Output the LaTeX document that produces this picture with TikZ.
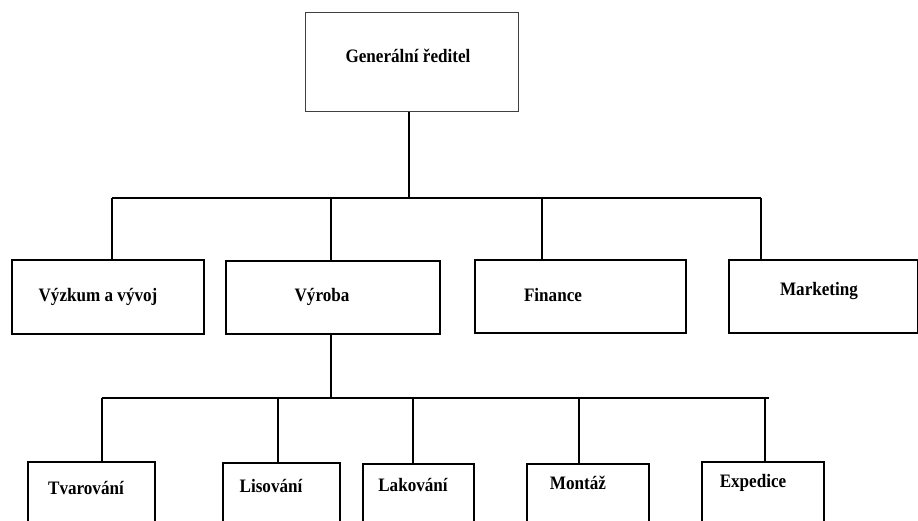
\documentclass[tikz,border=0pt]{standalone}
\usepackage{fontspec}
\setmainfont{Liberation Serif}
\usepackage{graphicx}
\newcommand\narrowtext[1]{\scalebox{0.9}[1]{#1}}
\begin{document}
\begin{tikzpicture}[x=1pt,y=-1pt,
  unit/.style={draw,rectangle,line width=2pt,inner sep=0pt,anchor=north west},
  headbox/.style={unit,line width=1.3pt,draw=black!75},
  lbl/.style={inner sep=0pt,font=\fontsize{19}{21}\selectfont\bfseries},
  link/.style={line width=2pt}]
\useasboundingbox (0,0) rectangle (918,521);
\clip (0,0) rectangle (918,521);

% boxes
\node[headbox,minimum width=213pt,minimum height=99pt] (gr) at (305,12) {};
\node[unit,minimum width=192pt,minimum height=74pt] (vyzkum) at (11,259) {};
\node[unit,minimum width=214pt,minimum height=73pt] (vyroba) at (225,260) {};
\node[unit,minimum width=211pt,minimum height=73pt] (finance) at (474,259) {};
\node[unit,minimum width=189pt,minimum height=73pt] (marketing) at (728,259) {};
\node[unit,minimum width=127pt,minimum height=80pt] (tvar) at (27,461) {};
\node[unit,minimum width=117pt,minimum height=80pt] (lis) at (222,462) {};
\node[unit,minimum width=111pt,minimum height=80pt] (lak) at (362,463) {};
\node[unit,minimum width=122pt,minimum height=80pt] (mont) at (526,463) {};
\node[unit,minimum width=122pt,minimum height=80pt] (exp) at (701,461) {};

% labels
\node[lbl] (tgr) at (408,56) {\narrowtext{Generální ředitel}};
\node[lbl] (tvyzkum) at (98,297) {\narrowtext{Výzkum a vývoj}};
\node[lbl] (tvyroba) at (322,297) {\narrowtext{Výroba}};
\node[lbl] (tfinance) at (553,295) {\narrowtext{Finance}};
\node[lbl] (tmarketing) at (819,291) {\narrowtext{Marketing}};
\node[lbl] (ttvar) at (86,488) {\narrowtext{Tvarování}};
\node[lbl] (tlis) at (271,486) {\narrowtext{Lisování}};
\node[lbl] (tlak) at (413,485) {\narrowtext{Lakování}};
\node[lbl] (tmont) at (578,483) {\narrowtext{Montáž}};
\node[lbl] (texp) at (753,483) {\narrowtext{Expedice}};

% first level bus
\coordinate (b1) at (409,198);
\coordinate (b1L) at (112,198);
\coordinate (b1R) at (761,198);
\coordinate (d12) at (331,198);
\coordinate (d13) at (542,198);
\draw[link] (b1 |- gr.south) -- (b1);
\draw[link] (b1L) -- (b1R);
\draw[link] (b1L) -- (b1L |- vyzkum.north);
\draw[link] (d12) -- (d12 |- vyroba.north);
\draw[link] (d13) -- (d13 |- finance.north);
\draw[link] (b1R) -- (b1R |- marketing.north);

% second level bus
\coordinate (b2) at (331,398);
\coordinate (b2L) at (102,398);
\coordinate (b2R) at (769,398);
\coordinate (d22) at (278,398);
\coordinate (d23) at (413,398);
\coordinate (d24) at (579,398);
\coordinate (d25) at (765,398);
\draw[link] (b2 |- vyroba.south) -- (b2);
\draw[link] (b2L) -- (b2R);
\draw[link] (b2L) -- (b2L |- tvar.north);
\draw[link] (d22) -- (d22 |- lis.north);
\draw[link] (d23) -- (d23 |- lak.north);
\draw[link] (d24) -- (d24 |- mont.north);
\draw[link] (d25) -- (d25 |- exp.north);
\end{tikzpicture}
\end{document}
